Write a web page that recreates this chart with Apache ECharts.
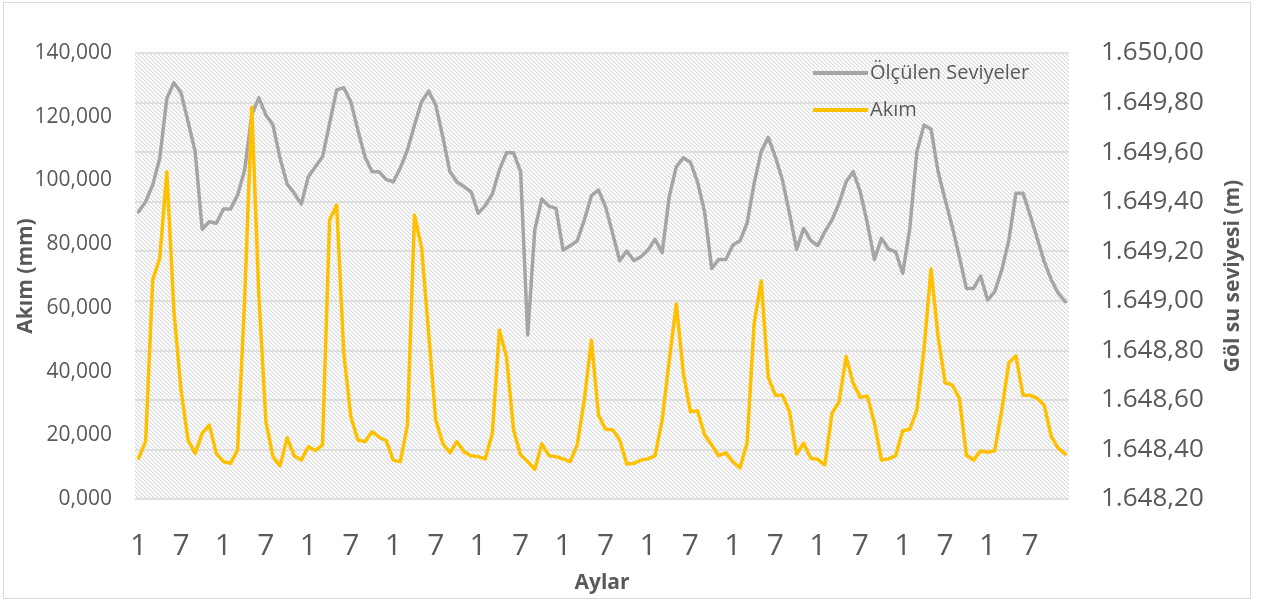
<!DOCTYPE html>
<html>
<head>
<meta charset="utf-8">
<script src="https://cdn.jsdelivr.net/npm/echarts@6/dist/echarts.min.js"></script>
<style>
  html, body { margin: 0; padding: 0; background: #fff; }
  #wrap { position: relative; width: 1268px; height: 605px; }
  #frame { position: absolute; left: 3px; top: 2px; width: 1248px; height: 597px; border: 1px solid #d9d9d9; box-sizing: border-box; }
  #chart { position: absolute; left: 0; top: 0; width: 1268px; height: 605px; }
</style>
</head>
<body>
<div id="wrap"><div id="frame"></div><div id="chart"></div></div>
<script>
// Month labels (11 years x 12 months)
const months = [
  '1','2','3','4','5','6','7','8','9','10','11','12',
  '1','2','3','4','5','6','7','8','9','10','11','12',
  '1','2','3','4','5','6','7','8','9','10','11','12',
  '1','2','3','4','5','6','7','8','9','10','11','12',
  '1','2','3','4','5','6','7','8','9','10','11','12',
  '1','2','3','4','5','6','7','8','9','10','11','12',
  '1','2','3','4','5','6','7','8','9','10','11','12',
  '1','2','3','4','5','6','7','8','9','10','11','12',
  '1','2','3','4','5','6','7','8','9','10','11','12',
  '1','2','3','4','5','6','7','8','9','10','11','12',
  '1','2','3','4','5','6','7','8','9','10','11','12'
];

// Akım (mm) - left axis
const akim = [
  12.8, 18.0, 68.7, 75.6, 102.7, 59.0, 34.2, 18.5, 14.3, 20.6, 23.2, 14.3,
  11.7, 11.2, 15.4, 63.0, 123.0, 64.0, 24.3, 13.3, 10.4, 19.2, 13.6, 12.2,
  16.4, 15.2, 17.0, 87.6, 92.3, 46.0, 25.8, 18.5, 18.0, 21.1, 19.4, 18.3,
  12.2, 11.7, 23.2, 89.1, 79.0, 52.0, 24.8, 17.5, 14.5, 18.0, 14.8, 13.6,
  13.3, 12.6, 20.6, 53.0, 44.7, 21.7, 13.8, 11.7, 9.3, 17.3, 13.6, 13.3,
  12.6, 11.7, 17.0, 31.1, 49.9, 26.4, 21.9, 21.7, 18.5, 11.0, 11.2, 12.2,
  12.6, 13.6, 24.8, 43.6, 61.2, 39.5, 27.4, 27.7, 20.1, 17.0, 13.6, 14.5,
  11.7, 9.8, 17.5, 55.1, 68.4, 38.2, 32.6, 32.6, 27.4, 14.1, 17.5, 12.8,
  12.5, 10.7, 26.9, 30.5, 44.7, 36.3, 31.9, 32.3, 23.8, 12.2, 12.6, 13.6,
  21.4, 21.9, 27.9, 46.8, 72.2, 51.0, 36.5, 35.8, 31.6, 13.8, 12.2, 15.1,
  14.7, 15.1, 27.9, 42.8, 44.9, 32.6, 32.6, 31.6, 29.5, 19.6, 15.9, 14.1
];

// Ölçülen Seviyeler (m) - right axis
const seviye = [
  1649.359, 1649.400, 1649.467, 1649.575, 1649.817, 1649.880, 1649.840, 1649.723, 1649.602, 1649.288, 1649.319, 1649.313,
  1649.370, 1649.370, 1649.427, 1649.528, 1649.750, 1649.819, 1649.750, 1649.709, 1649.575, 1649.471, 1649.434, 1649.390,
  1649.501, 1649.541, 1649.581, 1649.716, 1649.851, 1649.860, 1649.803, 1649.689, 1649.581, 1649.521, 1649.521, 1649.490,
  1649.480, 1649.536, 1649.608, 1649.709, 1649.803, 1649.846, 1649.790, 1649.662, 1649.521, 1649.480, 1649.460, 1649.440,
  1649.353, 1649.384, 1649.431, 1649.528, 1649.597, 1649.597, 1649.521, 1648.862, 1649.286, 1649.411, 1649.382, 1649.373,
  1649.205, 1649.222, 1649.242, 1649.326, 1649.424, 1649.447, 1649.380, 1649.272, 1649.162, 1649.201, 1649.162, 1649.178,
  1649.205, 1649.248, 1649.194, 1649.420, 1649.541, 1649.577, 1649.559, 1649.480, 1649.359, 1649.131, 1649.167, 1649.167,
  1649.225, 1649.242, 1649.313, 1649.474, 1649.602, 1649.660, 1649.581, 1649.487, 1649.353, 1649.208, 1649.292, 1649.244,
  1649.223, 1649.279, 1649.326, 1649.393, 1649.480, 1649.521, 1649.440, 1649.313, 1649.167, 1649.252, 1649.208, 1649.198,
  1649.111, 1649.292, 1649.602, 1649.709, 1649.692, 1649.521, 1649.407, 1649.299, 1649.178, 1649.050, 1649.050, 1649.100,
  1649.003, 1649.037, 1649.124, 1649.245, 1649.434, 1649.434, 1649.346, 1649.252, 1649.158, 1649.084, 1649.030, 1648.996
];

const seriesNames = ['Ölçülen Seviyeler', 'Akım'];
const axisNames = { x: 'Aylar', left: 'Akım (mm)', right: 'Göl su seviyesi (m)' };

// hatched pattern for plot area (downward diagonal)
const tile = document.createElement('canvas');
tile.width = 4; tile.height = 4;
const tc = tile.getContext('2d');
tc.fillStyle = '#ffffff'; tc.fillRect(0, 0, 4, 4);
for (let i = 0; i < 4; i++) {
  tc.fillStyle = '#d9d9d9'; tc.fillRect(i, i, 1, 1);
  tc.fillStyle = '#efefef'; tc.fillRect((i + 1) % 4, i, 1, 1);
}

const FONT = 'Open Sans';
const TXT = '#595959';

function fmtLeft(v) { return v.toFixed(3).replace('.', ','); }
function fmtRight(v) {
  const s = v.toFixed(2).split('.');
  const intPart = s[0].replace(/\B(?=(\d{3})+(?!\d))/g, '.');
  return intPart + ',' + s[1];
}

const chart = echarts.init(document.getElementById('chart'), null, { renderer: 'canvas' });
chart.setOption({
  animation: false,
  textStyle: { fontFamily: FONT },
  grid: {
    left: 135, right: 199, top: 53, bottom: 106,
    containLabel: false,
    outerBoundsMode: 'none',
    show: true, borderWidth: 0,
    backgroundColor: { image: tile, repeat: 'repeat' }
  },
  legend: {
    orient: 'vertical',
    left: 808, top: 58,
    icon: 'rect',
    itemWidth: 55, itemHeight: 4, itemGap: 17,
    textStyle: { fontFamily: FONT, fontSize: 20, color: TXT, lineHeight: 20, padding: [0, 0, 0, -3] },
    data: seriesNames
  },
  xAxis: {
    type: 'category',
    data: months,
    boundaryGap: true,
    name: axisNames.x,
    nameLocation: 'middle',
    nameGap: 74,
    nameMoveOverlap: false,
    nameTextStyle: { fontFamily: FONT, fontSize: 21, fontWeight: 'bold', color: TXT },
    axisLine: { show: false },
    axisTick: { show: false },
    axisLabel: { interval: 5, fontSize: 30, color: TXT, fontFamily: FONT, margin: 32 },
    splitLine: { show: false }
  },
  yAxis: [
    {
      type: 'value', min: 0, max: 140, interval: 20,
      position: 'left',
      name: axisNames.left, nameLocation: 'middle', nameGap: 98,
      nameMoveOverlap: false,
      nameTextStyle: { fontFamily: FONT, fontSize: 21, fontWeight: 'bold', color: TXT },
      axisLine: { show: false }, axisTick: { show: false },
      axisLabel: { formatter: fmtLeft, fontSize: 21, color: TXT, fontFamily: FONT, margin: 23 },
      splitLine: { show: false }
    },
    {
      type: 'value', min: 1648.2, max: 1650.0, interval: 0.2,
      position: 'right',
      name: axisNames.right, nameLocation: 'middle', nameGap: 154,
      nameMoveOverlap: false,
      nameTextStyle: { fontFamily: FONT, fontSize: 21, fontWeight: 'bold', color: TXT },
      axisLine: { show: false }, axisTick: { show: false },
      axisLabel: { formatter: fmtRight, fontSize: 26, color: TXT, fontFamily: FONT, margin: 32 },
      splitLine: { show: true, lineStyle: { color: '#d9d9d9', width: 1.5 } }
    }
  ],
  series: [
    {
      name: seriesNames[0], type: 'line', yAxisIndex: 1,
      data: seviye, symbol: 'none', showSymbol: false,
      lineStyle: { color: '#a5a5a5', width: 3.5, join: 'round', cap: 'round' },
      itemStyle: { color: '#a5a5a5' }, z: 2
    },
    {
      name: seriesNames[1], type: 'line', yAxisIndex: 0,
      data: akim, symbol: 'none', showSymbol: false,
      lineStyle: { color: '#ffc000', width: 3.5, join: 'round', cap: 'round' },
      itemStyle: { color: '#ffc000' }, z: 3
    }
  ]
});
</script>
</body>
</html>
